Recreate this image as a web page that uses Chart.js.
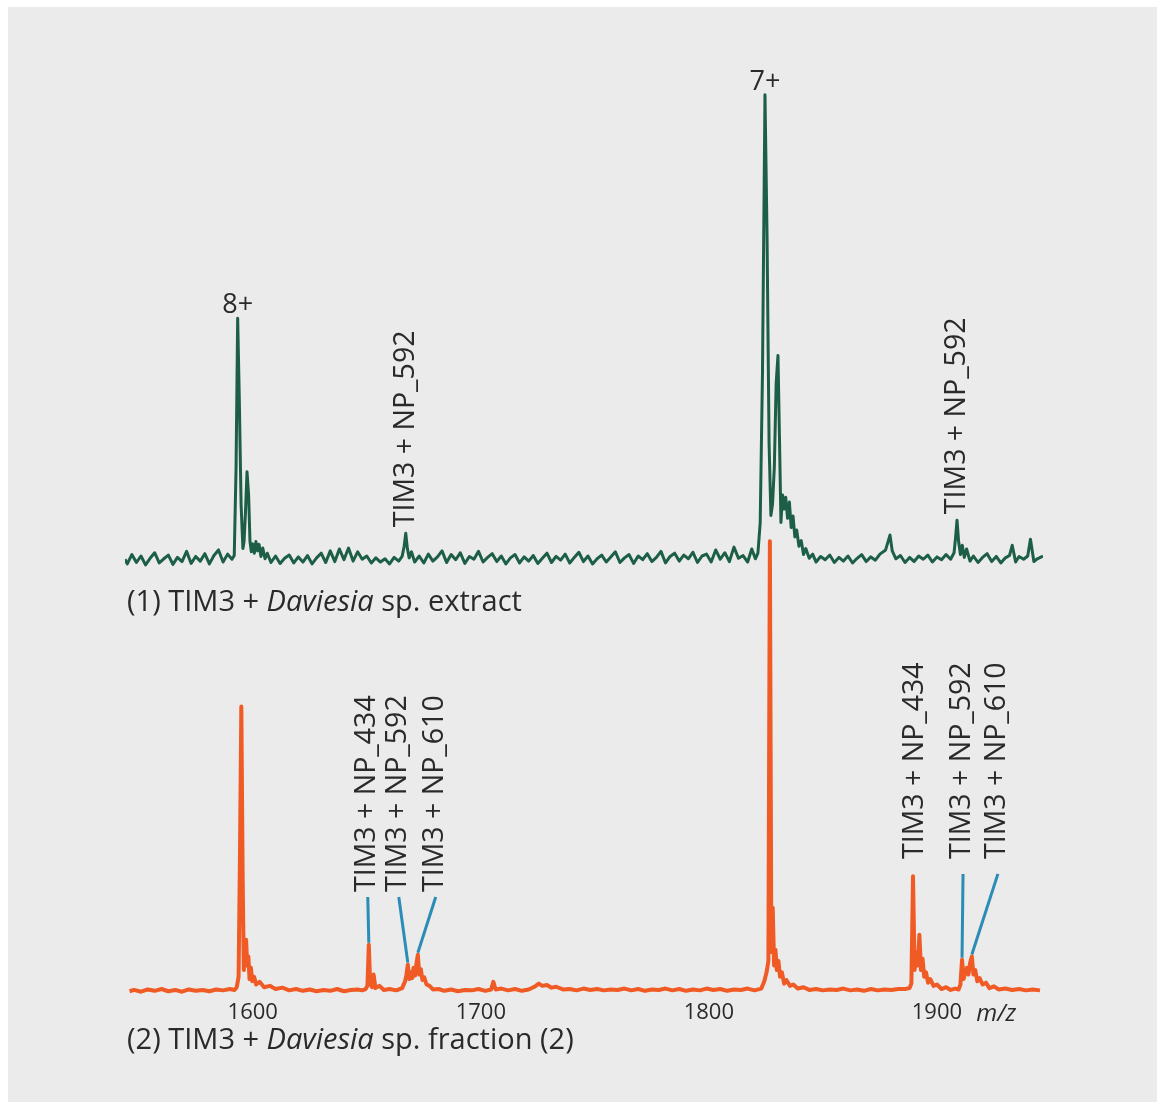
<!DOCTYPE html>
<html>
<head>
<meta charset="utf-8">
<script src="https://cdn.jsdelivr.net/npm/chart.js@4.4.1/dist/chart.umd.min.js"></script>
<style>
  html, body { margin: 0; padding: 0; background: #fff; }
  #wrap { width: 1159px; height: 1102px; }
</style>
</head>
<body>
<div id="wrap"><canvas id="spectrum" width="1159" height="1102"></canvas></div>
<script>
// (1) TIM3 + Daviesia sp. extract  -- relative intensity, 7+ peak = 100
const topMz = [
  1544, 1545, 1547, 1549, 1551, 1553, 1555, 1557, 1559, 1561, 1563, 1565, 1567, 1569, 1571, 1573, 1575, 1577, 1579, 1581,
  1583, 1585, 1587, 1589, 1590.9,
  1591.9, 1592.7, 1593.4, 1594.1, 1594.9, 1595.7, 1596.2, 1596.8, 1597.5, 1598.2, 1598.8, 1599.4, 1600, 1600.7, 1601.4,
  1602.1, 1602.8, 1603.6, 1604.4, 1605.4, 1606.4,
  1608, 1610, 1612, 1614, 1616, 1618, 1620, 1622, 1624, 1626, 1628, 1630, 1632, 1634, 1636, 1638, 1640, 1642, 1644, 1646,
  1648, 1650, 1652, 1654, 1656, 1658, 1660, 1662, 1664, 1665.5,
  1666.4, 1667.1, 1667.8, 1668.6, 1669.6, 1671,
  1673, 1675, 1677, 1679, 1681, 1683, 1685, 1687, 1689, 1691, 1693, 1695, 1697, 1699, 1701, 1703, 1705, 1707, 1709, 1711,
  1713, 1715, 1717, 1719, 1721, 1723, 1725, 1727, 1729, 1731, 1733, 1735, 1737, 1739, 1741, 1743, 1745, 1747, 1749, 1751,
  1753, 1755, 1757, 1759, 1761, 1763, 1765, 1767, 1769, 1771, 1773, 1775, 1777, 1779, 1781, 1783, 1785, 1787, 1789, 1791,
  1793, 1795, 1797, 1799, 1801, 1803, 1805, 1807, 1809, 1811, 1813, 1815, 1817, 1818.8, 1820.4, 1821.5,
  1822.5, 1823.5, 1824.6, 1825.5, 1826.4, 1827.2, 1827.9, 1828.7, 1829.5, 1830.3, 1831, 1831.6, 1832.3, 1833, 1833.7,
  1834.5, 1835.3, 1836.1, 1836.9, 1837.7, 1838.5, 1839.5, 1840.5, 1841.5, 1842.5, 1844, 1845.5,
  1847, 1849, 1851, 1853, 1855, 1857, 1859, 1861, 1863, 1865, 1867, 1869, 1871, 1873, 1875, 1877.5, 1879.4, 1880.4, 1882,
  1884, 1886, 1888, 1890, 1892, 1894, 1896, 1898, 1900, 1902, 1904, 1906, 1907.5,
  1908.1, 1908.8, 1909.5, 1910.3, 1911.1, 1912, 1913, 1914.5,
  1916, 1918, 1920, 1922, 1924, 1926, 1928, 1930, 1931.8, 1933, 1934.5, 1936, 1938, 1939.8, 1941, 1942.5, 1944, 1946.5
];
const topInt = [
  0.2, -0.8, 1.2, -0.5, 0.9, -1.0, 0.4, 1.6, -0.6, 0.3, 1.1, -0.9, 0.6, -0.3, 1.9, -0.7, 0.8, -0.2, 1.4, -0.8,
  1.0, 2.2, -0.4, 1.3, 0.2,
  1.0, 20, 52, 35, 12, 2.5, 4, 10, 19, 14, 4, 1.8, 3.5, 1.5, 4.0,
  2.0, 3.4, 0.8, 2.6, 0.3, 1.5,
  -0.5, 0.9, -0.7, 0.4, 1.1, -0.6, 0.7, -0.4, 1.0, -0.8, 0.5, 1.5, -0.5, 2.0, -0.3, 2.4, 0.1, 2.6, -0.2, 1.8,
  0.2, 0.9, -0.6, 0.5, -0.4, 0.3, -0.8, 0.6, -0.2, 0.8,
  3.0, 5.8, 2.5, 0.5, 1.8, -0.4,
  0.9, -0.6, 1.3, -0.2, 0.7, 2.0, -0.5, 1.2, 0.1, 1.6, -0.7, 0.8, 0.2, 1.9, -0.4, 0.6, 1.4, -0.3, 0.9, -0.8,
  0.5, 1.2, -0.6, 0.7, -0.2, 1.0, -0.7, 0.4, 1.5, -0.5, 0.8, 0.0, 1.3, -0.6, 0.6, 1.7, -0.3, 0.9, -0.8, 0.3,
  1.1, -0.4, 0.7, 1.8, -0.5, 0.5, 1.2, -0.7, 0.9, 0.1, 1.4, -0.3, 0.6, 1.9, -0.6, 0.8, 1.5, -0.2, 1.1, 0.3,
  1.7, -0.5, 0.9, 1.3, -0.4, 2.2, 0.2, 1.6, -0.3, 2.8, 0.4, 1.0, -0.4, 2.4, 0.3, 1.5,
  8, 40, 100, 70, 25, 9.6, 12, 20, 38, 44, 25, 8.1, 14, 11, 13.5,
  9, 12.5, 7, 9.5, 5, 6.5, 3, 4.2, 1.2, 2.5, 0.4, 1.3,
  -0.4, 0.8, 0.1, 1.1, -0.5, 0.6, -0.2, 0.9, -0.6, 0.4, 1.2, -0.3, 0.7, 0.0, 1.3, 2.2, 5.4, 2.0, 0.3,
  1.0, -0.5, 0.6, -0.3, 0.9, 0.2, 1.1, -0.4, 0.7, 0.1, 1.2, 0.2, 1.6,
  4.5, 8.6, 4.0, 1.2, 3.2, 0.6, 2.4, -0.2,
  0.9, -0.5, 0.6, 1.4, -0.3, 0.8, -0.6, 0.5, 1.0, 3.2, -0.4, 0.8, 0.2, 0.9, 4.5, -0.3, 0.3, 0.9
];

// (2) TIM3 + Daviesia sp. fraction (2)  -- relative intensity, 1826 peak = 100
const botMz = [
  1546, 1548, 1551, 1554, 1557, 1560, 1563, 1566, 1569, 1572, 1575, 1578, 1581, 1584, 1587, 1590, 1592,
  1593, 1593.8, 1594.4, 1595, 1595.6, 1596.1, 1596.6, 1597.1, 1597.6, 1598.1, 1598.6, 1599.2, 1599.8, 1600.6, 1601.5,
  1603, 1605, 1607.5, 1610, 1613, 1616, 1619, 1622, 1625, 1628, 1631, 1634, 1637, 1640, 1643, 1646, 1648,
  1649.5, 1650.3, 1650.9, 1651.5, 1652.3, 1653, 1653.8, 1655.5, 1657.5, 1660, 1663, 1665.5,
  1666.8, 1667.4, 1668, 1668.6, 1669.2, 1669.9, 1670.5, 1671.2, 1671.8, 1672.4, 1673, 1673.7, 1674.4, 1675.2, 1676.2,
  1677.5, 1679, 1681.5, 1684, 1687, 1690, 1693, 1696, 1699, 1702, 1704.5, 1705.5, 1706.5, 1709, 1712, 1715, 1718,
  1721, 1723.5, 1725.4, 1727, 1729, 1731, 1733, 1736, 1739, 1742, 1745, 1748, 1751, 1754, 1757, 1760, 1763, 1766,
  1769, 1772, 1775, 1778, 1781, 1784, 1787, 1790, 1793, 1796, 1799, 1802, 1805, 1808, 1811, 1814, 1817, 1820, 1823,
  1824.3, 1825.3, 1826.1, 1826.75, 1827.4, 1828, 1828.6, 1829.2, 1829.8, 1830.5, 1831.2, 1832, 1833, 1834, 1835.5,
  1837, 1839, 1841.5, 1844, 1847, 1850, 1853, 1856, 1859, 1862, 1865, 1868, 1871, 1874, 1877, 1880, 1883, 1886, 1888,
  1888.8, 1889.5, 1890.2, 1890.9, 1891.6, 1892.3, 1893, 1893.7, 1894.4, 1895.2, 1896.1, 1897.1, 1898.5, 1900, 1902,
  1904, 1906, 1908, 1909.5, 1910.3, 1911, 1911.7, 1912.4, 1913.1, 1913.8, 1914.5, 1915.3, 1916, 1916.8, 1917.7,
  1918.7, 1920, 1921.5, 1923, 1925, 1927, 1930, 1933, 1936, 1939, 1942, 1945.2
];
const botInt = [
  0.3, 0.6, 0.2, 0.7, 0.4, 0.8, 0.3, 0.6, 0.2, 0.7, 0.4, 0.6, 0.3, 0.7, 0.5, 0.8, 0.6,
  1.2, 3.5, 30, 63.4, 25, 5, 9, 11.7, 6, 8, 3, 5.5, 2.5, 3.5, 1.8,
  2.4, 1.2, 1.5, 0.8, 1.1, 0.5, 0.8, 0.4, 0.7, 0.3, 0.6, 0.4, 0.8, 0.3, 0.6, 0.7, 0.5,
  0.8, 1.5, 10.6, 2, 1.2, 4, 1.0, 1.5, 0.6, 0.8, 0.5, 1.0,
  2.5, 4.0, 6.2, 3, 4.5, 3.2, 5.5, 3.8, 6.5, 8.4, 4, 5.2, 2.8, 3.4, 1.8,
  1.5, 0.7, 0.8, 0.4, 0.7, 0.3, 0.6, 0.5, 0.8, 0.4, 0.7, 2.4, 0.7, 0.9, 0.5, 0.8, 0.4,
  0.7, 1.3, 2.0, 1.5, 1.7, 1.1, 1.3, 0.7, 0.8, 0.5, 0.9, 0.6, 0.8, 0.5, 0.7, 0.6, 0.9, 0.5,
  0.8, 0.4, 0.7, 0.6, 0.9, 0.5, 0.8, 0.4, 0.7, 0.5, 0.9, 0.6, 0.8, 0.4, 0.7, 0.6, 0.9, 0.5, 0.9,
  2.5, 4.5, 7, 100, 9, 18.8, 6, 9.5, 5, 7, 3.5, 4.5, 2, 2.8, 1.5,
  1.8, 0.9, 1.2, 0.6, 0.8, 0.5, 0.7, 0.6, 0.9, 0.5, 0.7, 0.4, 0.8, 0.5, 0.7, 0.6, 0.8, 0.8, 1.0,
  2.0, 25.8, 5, 9, 6, 12.8, 5, 7.5, 3.5, 4.5, 2.2, 3.0, 1.5, 1.8, 0.8,
  1.2, 0.6, 0.9, 0.7, 1.8, 7.3, 3, 4.5, 5.5, 4, 6.5, 8, 4, 5, 2.5,
  3.2, 1.8, 2.2, 1.0, 1.4, 0.7, 0.9, 0.6, 0.8, 0.5, 0.7, 0.5
];

const xTicks = [1600, 1700, 1800, 1900];

// peak annotations
const chargeTags = [
  { text: '8+', mz: 1593.4 },
  { text: '7+', mz: 1824.6 }
];
const topTags = [
  { text: 'TIM3 + NP_592', mz: 1667.1 },
  { text: 'TIM3 + NP_592', mz: 1908.8 }
];
const botTags = [
  { text: 'TIM3 + NP_434', mz: 1650.9, labelMz: 1650.0, labelLevel: 22.3, leaderFrom: 21.2 },
  { text: 'TIM3 + NP_592', mz: 1668.0, labelMz: 1663.6, labelLevel: 22.3, leaderFrom: 21.2 },
  { text: 'TIM3 + NP_610', mz: 1672.4, labelMz: 1679.8, labelLevel: 22.3, leaderFrom: 21.2 },
  { text: 'TIM3 + NP_434', mz: 1889.5, labelMz: 1890.4, labelLevel: 29.6, leaderFrom: null },
  { text: 'TIM3 + NP_592', mz: 1911.0, labelMz: 1911.0, labelLevel: 29.6, leaderFrom: 26.3 },
  { text: 'TIM3 + NP_610', mz: 1915.3, labelMz: 1926.3, labelLevel: 29.6, leaderFrom: 26.3 }
];
const captionTop = [['(1) TIM3 + ', false], ['Daviesia', true], [' sp. extract', false]];
const captionBot = [['(2) TIM3 + ', false], ['Daviesia', true], [' sp. fraction (2)', false]];

const FONT = '"Open Sans", "Noto Sans", sans-serif';
const GREEN = '#1d5e46';
const ORANGE = '#f05a24';
const BLUE = '#2b8cb6';
const INK = '#2a2a2a';

function toPoints(xs, ys) {
  return xs.map((v, i) => ({ x: v, y: ys[i] }));
}

// tallest value of a series close to a given m/z
function peakHeight(xs, ys, mz) {
  let best = -Infinity;
  xs.forEach((m, i) => {
    if (Math.abs(m - mz) <= 0.7 && ys[i] > best) best = ys[i];
  });
  return best;
}

function drawRuns(ctx, runs, x, y, size) {
  runs.forEach(([txt, italic]) => {
    ctx.font = (italic ? 'italic ' : '') + size + 'px ' + FONT;
    ctx.fillText(txt, x, y);
    x += ctx.measureText(txt).width;
  });
}

const decorations = {
  id: 'decorations',
  beforeDraw(chart) {
    const ctx = chart.ctx;
    ctx.save();
    ctx.fillStyle = '#fff';
    ctx.fillRect(0, 0, chart.width, chart.height);
    ctx.fillStyle = '#ebebeb';
    ctx.fillRect(8, 7, chart.width - 10, chart.height - 7);
    ctx.restore();
  },
  afterDatasetsDraw(chart) {
    const ctx = chart.ctx;
    const x = chart.scales.x, yT = chart.scales.yTop, yB = chart.scales.yBot;
    ctx.save();
    ctx.fillStyle = INK;

    // charge state labels
    ctx.font = '27px ' + FONT;
    ctx.textAlign = 'center';
    ctx.textBaseline = 'bottom';
    chargeTags.forEach(t => {
      const h = peakHeight(topMz, topInt, t.mz);
      ctx.fillText(t.text, x.getPixelForValue(t.mz), yT.getPixelForValue(h) + 1);
    });

    // vertical complex labels
    ctx.font = '28.5px ' + FONT;
    ctx.textAlign = 'left';
    ctx.textBaseline = 'middle';
    const vtext = (s, px, py) => {
      ctx.save();
      ctx.translate(px, py);
      ctx.rotate(-Math.PI / 2);
      ctx.fillText(s, 0, 0);
      ctx.restore();
    };
    topTags.forEach(t => {
      const h = peakHeight(topMz, topInt, t.mz);
      vtext(t.text, x.getPixelForValue(t.mz), yT.getPixelForValue(h) - 6);
    });
    botTags.forEach(t => {
      const lx = x.getPixelForValue(t.labelMz);
      vtext(t.text, lx, yB.getPixelForValue(t.labelLevel));
      if (t.leaderFrom !== null) {
        const h = peakHeight(botMz, botInt, t.mz);
        ctx.strokeStyle = BLUE;
        ctx.lineWidth = 3;
        ctx.beginPath();
        ctx.moveTo(lx + 1, yB.getPixelForValue(t.leaderFrom));
        ctx.lineTo(x.getPixelForValue(t.mz), yB.getPixelForValue(h) - 2);
        ctx.stroke();
      }
    });

    // captions
    ctx.textAlign = 'left';
    ctx.textBaseline = 'middle';
    drawRuns(ctx, captionTop, 127, yT.getPixelForValue(0) + 43, 29);
    drawRuns(ctx, captionBot, 127, yB.getPixelForValue(0) + 48, 29);

    // axis unit
    ctx.font = 'italic 24px ' + FONT;
    ctx.textAlign = 'center';
    ctx.fillText('m/z', x.getPixelForValue(1926), 1014);
    ctx.restore();
  }
};

new Chart(document.getElementById('spectrum'), {
  type: 'line',
  data: {
    datasets: [
      {
        label: 'extract',
        data: toPoints(topMz, topInt),
        yAxisID: 'yTop',
        borderColor: GREEN,
        borderWidth: 3,
        borderJoinStyle: 'round',
        pointRadius: 0,
        tension: 0
      },
      {
        label: 'fraction',
        data: toPoints(botMz, botInt),
        yAxisID: 'yBot',
        borderColor: ORANGE,
        borderWidth: 4,
        borderJoinStyle: 'round',
        pointRadius: 0,
        tension: 0
      }
    ]
  },
  options: {
    responsive: false,
    animation: false,
    layout: { padding: { left: 125, right: 116, top: 60, bottom: 73 } },
    plugins: { legend: { display: false }, tooltip: { enabled: false } },
    scales: {
      x: {
        type: 'linear',
        min: 1544,
        max: 1946.5,
        grid: { display: false, drawTicks: false },
        border: { display: false },
        afterBuildTicks: s => { s.ticks = xTicks.map(v => ({ value: v })); },
        ticks: {
          padding: 3,
          color: INK,
          font: { family: FONT, size: 22 },
          maxRotation: 0,
          callback: v => String(v)
        }
      },
      yTop: { display: false, min: -93.79, max: 107.49 },
      yBot: { display: false, min: -0.88, max: 206.6 }
    }
  },
  plugins: [decorations]
});
</script>
</body>
</html>
